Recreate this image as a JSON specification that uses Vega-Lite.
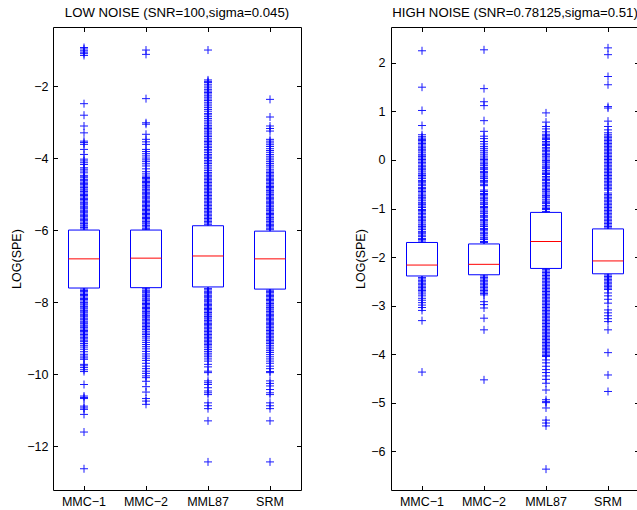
{
  "$schema": "https://vega.github.io/schema/vega-lite/v6.json",
  "padding": {"left": 10, "top": 5, "right": 0, "bottom": 0},
  "background": "white",
  "spacing": 52,
  "config": {
    "view": {"stroke": "black", "strokeWidth": 1},
    "font": "Liberation Sans",
    "axis": {"labelFont": "Liberation Sans", "labelFontSize": 12.5, "labelColor": "black", "titleFont": "Liberation Sans", "titleFontSize": 12.5, "titleFontWeight": "normal", "titleColor": "black", "grid": false, "domain": false, "tickColor": "black", "tickSize": -4.5, "tickWidth": 1},
    "title": {"font": "Liberation Sans", "fontSize": 13.2, "fontWeight": "normal", "color": "black", "offset": 6}
  },
  "datasets": {
    "boxes": [
      {"p": "L", "m": "MMC-1", "q1": -7.61, "q3": -6.0, "med": -6.8},
      {"p": "L", "m": "MMC-2", "q1": -7.6, "q3": -6.0, "med": -6.78},
      {"p": "L", "m": "MML87", "q1": -7.58, "q3": -5.88, "med": -6.72},
      {"p": "L", "m": "SRM", "q1": -7.64, "q3": -6.03, "med": -6.8},
      {"p": "H", "m": "MMC-1", "q1": -2.39, "q3": -1.7, "med": -2.165},
      {"p": "H", "m": "MMC-2", "q1": -2.365, "q3": -1.73, "med": -2.15},
      {"p": "H", "m": "MML87", "q1": -2.235, "q3": -1.08, "med": -1.68},
      {"p": "H", "m": "SRM", "q1": -2.345, "q3": -1.42, "med": -2.08}
    ],
    "outliers": [
      {"p": "L", "m": "MMC-1", "v": [-0.93,-0.97,-1.02,-1.06,-1.1,-1.15,-2.49,-2.81,-3.11,-3.3,-3.53,-3.57,-3.62,-3.76,-3.9,-4.03,-4.08,-4.13,-4.18,-4.27,-4.31,-4.36,-4.41,-4.48,-4.52,-4.55,-4.6,-4.63,-4.67,-4.71,-4.74,-4.78,-4.82,-4.86,-4.89,-4.93,-4.97,-5.01,-5.04,-5.08,-5.12,-5.15,-5.19,-5.23,-5.27,-5.3,-5.34,-5.38,-5.41,-5.45,-5.49,-5.52,-5.56,-5.6,-5.63,-5.67,-5.71,-5.74,-5.78,-5.82,-5.86,-5.89,-5.93,-5.97]},
      {"p": "L", "m": "MMC-1", "v": [-7.64,-7.68,-7.71,-7.75,-7.79,-7.82,-7.86,-7.9,-7.93,-7.97,-8.01,-8.05,-8.08,-8.12,-8.16,-8.19,-8.23,-8.27,-8.3,-8.34,-8.38,-8.41,-8.45,-8.49,-8.53,-8.56,-8.6,-8.64,-8.67,-8.71,-8.75,-8.79,-8.82,-8.86,-8.9,-8.94,-8.98,-9.02,-9.06,-9.1,-9.15,-9.2,-9.25,-9.31,-9.38,-9.45,-9.5,-9.55,-9.59,-9.73,-9.77,-9.82,-9.88,-9.93,-10.29,-10.61,-10.65,-10.68,-10.89,-10.94,-10.98,-11.12,-11.61,-12.63]},
      {"p": "L", "m": "MMC-2", "v": [-1.0,-1.12,-2.35,-3.02,-3.06,-3.34,-3.48,-3.55,-3.62,-3.76,-3.82,-3.88,-3.94,-4.0,-4.05,-4.1,-4.16,-4.22,-4.3,-4.38,-4.44,-4.5,-4.54,-4.57,-4.61,-4.65,-4.68,-4.72,-4.76,-4.8,-4.83,-4.87,-4.91,-4.95,-4.98,-5.02,-5.06,-5.09,-5.13,-5.17,-5.21,-5.24,-5.28,-5.32,-5.35,-5.39,-5.43,-5.46,-5.5,-5.54,-5.57,-5.61,-5.65,-5.68,-5.72,-5.76,-5.8,-5.83,-5.87,-5.91,-5.95,-5.98]},
      {"p": "L", "m": "MMC-2", "v": [-7.63,-7.67,-7.7,-7.74,-7.78,-7.81,-7.85,-7.89,-7.92,-7.96,-8.0,-8.04,-8.07,-8.11,-8.15,-8.18,-8.22,-8.26,-8.3,-8.33,-8.37,-8.41,-8.44,-8.48,-8.52,-8.56,-8.6,-8.64,-8.68,-8.72,-8.76,-8.81,-8.86,-8.9,-8.95,-9.0,-9.06,-9.12,-9.18,-9.24,-9.3,-9.37,-9.44,-9.5,-9.56,-9.62,-9.7,-9.78,-9.85,-9.92,-9.98,-10.05,-10.1,-10.2,-10.35,-10.5,-10.68,-10.75,-10.84]},
      {"p": "L", "m": "MML87", "v": [-1.0,-1.83,-1.87,-1.9,-1.95,-2.0,-2.05,-2.1,-2.14,-2.18,-2.22,-2.27,-2.31,-2.36,-2.4,-2.45,-2.5,-2.55,-2.6,-2.65,-2.7,-2.76,-2.8,-2.85,-2.9,-2.95,-3.0,-3.05,-3.1,-3.14,-3.18,-3.22,-3.27,-3.31,-3.36,-3.4,-3.45,-3.5,-3.54,-3.58,-3.62,-3.67,-3.71,-3.76,-3.8,-3.85,-3.9,-3.94,-3.98,-4.02,-4.07,-4.11,-4.15,-4.2,-4.25,-4.3,-4.35,-4.4,-4.44,-4.48,-4.52,-4.56,-4.6,-4.64,-4.68,-4.72,-4.76,-4.8,-4.84,-4.88,-4.92,-4.96,-5.0,-5.04,-5.08,-5.12,-5.16,-5.2,-5.24,-5.28,-5.32,-5.36,-5.4,-5.44,-5.48,-5.52,-5.56,-5.6,-5.64,-5.68,-5.72,-5.76,-5.8,-5.84]},
      {"p": "L", "m": "MML87", "v": [-7.62,-7.66,-7.7,-7.73,-7.77,-7.81,-7.84,-7.88,-7.92,-7.95,-7.99,-8.03,-8.07,-8.1,-8.14,-8.18,-8.21,-8.25,-8.29,-8.33,-8.36,-8.4,-8.44,-8.47,-8.51,-8.55,-8.59,-8.62,-8.66,-8.7,-8.74,-8.78,-8.82,-8.86,-8.9,-8.94,-8.98,-9.02,-9.06,-9.1,-9.14,-9.18,-9.22,-9.27,-9.32,-9.37,-9.42,-9.47,-9.52,-9.58,-9.64,-9.73,-9.8,-9.92,-9.96,-10.19,-10.24,-10.29,-10.38,-10.47,-10.52,-10.57,-10.8,-10.88,-10.96,-11.3,-12.44]},
      {"p": "L", "m": "SRM", "v": [-2.37,-2.86,-3.11,-3.18,-3.25,-3.48,-3.53,-3.58,-3.63,-3.68,-3.74,-3.79,-3.84,-3.9,-3.95,-4.0,-4.05,-4.1,-4.15,-4.2,-4.25,-4.31,-4.36,-4.4,-4.44,-4.48,-4.52,-4.56,-4.6,-4.63,-4.67,-4.71,-4.75,-4.79,-4.82,-4.86,-4.9,-4.94,-4.97,-5.01,-5.05,-5.09,-5.12,-5.16,-5.2,-5.24,-5.27,-5.31,-5.35,-5.39,-5.42,-5.46,-5.5,-5.54,-5.57,-5.61,-5.65,-5.69,-5.72,-5.76,-5.8,-5.84,-5.87,-5.91,-5.95,-5.99]},
      {"p": "L", "m": "SRM", "v": [-7.67,-7.71,-7.74,-7.78,-7.82,-7.85,-7.89,-7.93,-7.96,-8.0,-8.04,-8.08,-8.11,-8.15,-8.19,-8.22,-8.26,-8.3,-8.34,-8.37,-8.41,-8.45,-8.48,-8.52,-8.56,-8.6,-8.63,-8.67,-8.71,-8.75,-8.79,-8.83,-8.87,-8.91,-8.95,-8.99,-9.03,-9.07,-9.11,-9.15,-9.2,-9.25,-9.3,-9.35,-9.4,-9.46,-9.52,-9.58,-9.64,-9.7,-9.78,-9.85,-9.93,-9.96,-10.19,-10.26,-10.33,-10.43,-10.52,-10.57,-10.8,-10.88,-10.96,-11.3,-12.44]},
      {"p": "H", "m": "MMC-1", "v": [2.25,1.5,1.02,0.71,0.52,0.48,0.45,0.42,0.4,0.37,0.34,0.31,0.27,0.25,0.22,0.19,0.16,0.12,0.1,0.07,0.04,0.01,-0.02,-0.05,-0.08,-0.12,-0.14,-0.17,-0.2,-0.23,-0.27,-0.29,-0.32,-0.35,-0.38,-0.42,-0.44,-0.47,-0.5,-0.53,-0.57,-0.59,-0.62,-0.65,-0.68,-0.72,-0.74,-0.77,-0.8,-0.83,-0.87,-0.89,-0.92,-0.95,-0.98,-1.02,-1.04,-1.07,-1.1,-1.13,-1.17,-1.19,-1.22,-1.25,-1.28,-1.32,-1.34,-1.37,-1.4,-1.43,-1.47,-1.49,-1.52,-1.55,-1.58,-1.62,-1.64,-1.67]},
      {"p": "H", "m": "MMC-1", "v": [-2.42,-2.45,-2.48,-2.51,-2.54,-2.57,-2.6,-2.63,-2.66,-2.69,-2.72,-2.76,-2.8,-2.85,-2.89,-2.94,-2.99,-3.04,-3.1,-3.31,-4.37]},
      {"p": "H", "m": "MMC-2", "v": [2.27,1.47,1.2,1.12,0.81,0.59,0.49,0.44,0.38,0.33,0.28,0.24,0.2,0.16,0.12,0.08,0.04,0.01,-0.02,-0.06,-0.08,-0.11,-0.15,-0.17,-0.2,-0.24,-0.26,-0.29,-0.33,-0.35,-0.38,-0.42,-0.44,-0.47,-0.51,-0.53,-0.62,-0.65,-0.69,-0.71,-0.74,-0.78,-0.8,-0.83,-0.87,-0.89,-0.92,-0.96,-0.98,-1.01,-1.05,-1.07,-1.1,-1.14,-1.16,-1.19,-1.23,-1.25,-1.28,-1.32,-1.34,-1.37,-1.41,-1.43,-1.46,-1.5,-1.52,-1.55,-1.59,-1.61,-1.64,-1.68,-1.7]},
      {"p": "H", "m": "MMC-2", "v": [-2.39,-2.42,-2.45,-2.48,-2.51,-2.54,-2.57,-2.6,-2.63,-2.66,-2.69,-2.72,-2.75,-2.78,-2.92,-2.98,-3.05,-3.26,-3.5,-4.53]},
      {"p": "H", "m": "MML87", "v": [0.97,0.78,0.69,0.64,0.58,0.53,0.5,0.47,0.44,0.42,0.38,0.35,0.32,0.3,0.26,0.23,0.2,0.18,0.14,0.11,0.08,0.06,0.02,-0.01,-0.04,-0.06,-0.1,-0.13,-0.16,-0.18,-0.22,-0.25,-0.28,-0.3,-0.34,-0.37,-0.4,-0.42,-0.46,-0.49,-0.52,-0.54,-0.58,-0.61,-0.64,-0.66,-0.7,-0.73,-0.76,-0.78,-0.82,-0.85,-0.88,-0.9,-0.94,-0.97,-1.0,-1.02,-1.06]},
      {"p": "H", "m": "MML87", "v": [-2.26,-2.29,-2.32,-2.35,-2.38,-2.41,-2.44,-2.47,-2.5,-2.53,-2.56,-2.59,-2.62,-2.65,-2.68,-2.71,-2.74,-2.77,-2.8,-2.83,-2.86,-2.89,-2.92,-2.95,-2.98,-3.01,-3.04,-3.07,-3.1,-3.13,-3.16,-3.19,-3.22,-3.25,-3.28,-3.31,-3.34,-3.37,-3.4,-3.43,-3.46,-3.49,-3.52,-3.55,-3.58,-3.61,-3.64,-3.67,-3.7,-3.73,-3.76,-3.79,-3.82,-3.85,-3.88,-3.91,-3.94,-3.97,-4.0,-4.03,-4.05,-4.12,-4.18,-4.25,-4.32,-4.38,-4.45,-4.52,-4.6,-4.74,-4.94,-4.98,-5.0,-5.11,-5.36,-5.42,-5.48,-6.37]},
      {"p": "H", "m": "SRM", "v": [2.31,2.17,1.72,1.55,1.1,1.07,0.8,0.69,0.62,0.56,0.52,0.49,0.46,0.43,0.4,0.37,0.34,0.31,0.28,0.25,0.22,0.19,0.16,0.13,0.1,0.07,0.04,0.01,-0.02,-0.05,-0.08,-0.11,-0.14,-0.17,-0.2,-0.23,-0.26,-0.29,-0.32,-0.35,-0.38,-0.41,-0.44,-0.47,-0.5,-0.53,-0.56,-0.59,-0.62,-0.68,-0.71,-0.74,-0.77,-0.8,-0.83,-0.86,-0.89,-0.92,-0.95,-0.98,-1.01,-1.04,-1.07,-1.1,-1.13,-1.16,-1.19,-1.22,-1.25,-1.28,-1.31,-1.34,-1.37,-1.4]},
      {"p": "H", "m": "SRM", "v": [-2.37,-2.4,-2.43,-2.46,-2.49,-2.52,-2.55,-2.58,-2.61,-2.64,-2.67,-2.74,-2.8,-2.87,-2.95,-3.09,-3.15,-3.21,-3.27,-3.33,-3.5,-3.97,-4.43,-4.77]}
    ]
  },
  "hconcat": [
    {
      "width": 248, "height": 463,
      "title": "LOW NOISE (SNR=100,sigma=0.045)",
      "resolve": {"axis": {"x": "independent", "y": "independent"}},
      "layer": [
        {
          "data": {"name": "outliers"},
          "transform": [{"filter": "datum.p === 'L'"}, {"flatten": ["v"]}],
          "mark": {"type": "point", "shape": "M-1,0L1,0M0,-1L0,1", "size": 64, "filled": false, "color": "#0000ff", "strokeWidth": 1, "opacity": 0.9},
          "encoding": {
            "x": {"field": "m", "type": "nominal", "sort": ["MMC-1", "MMC-2", "MML87", "SRM"], "scale": {"paddingInner": 0, "paddingOuter": 0}, "axis": {"orient": "bottom", "title": null, "labelAngle": 0, "labelPadding": 10, "labelExpr": "replace(datum.label, '-', '−')"}},
            "y": {"field": "v", "type": "quantitative", "scale": {"domain": [-13.22, -0.36], "nice": false, "zero": false}, "axis": {"orient": "left", "title": "LOG(SPE)", "values": [-12, -10, -8, -6, -4, -2], "labelPadding": 9.5, "titlePadding": 3}}
          }
        },
        {
          "data": {"name": "boxes"},
          "transform": [{"filter": "datum.p === 'L'"}],
          "mark": {"type": "bar", "width": 31, "fill": "white", "stroke": "#0000ff", "strokeWidth": 1},
          "encoding": {
            "x": {"field": "m", "type": "nominal", "sort": ["MMC-1", "MMC-2", "MML87", "SRM"], "axis": {"orient": "top", "labels": false, "title": null}},
            "y": {"field": "q1", "type": "quantitative", "axis": {"orient": "right", "labels": false, "title": null, "values": [-12, -10, -8, -6, -4, -2]}},
            "y2": {"field": "q3"}
          }
        },
        {
          "data": {"name": "boxes"},
          "transform": [{"filter": "datum.p === 'L'"}],
          "mark": {"type": "tick", "color": "#ff0000", "size": 31, "thickness": 1, "opacity": 1},
          "encoding": {
            "x": {"field": "m", "type": "nominal", "sort": ["MMC-1", "MMC-2", "MML87", "SRM"], "axis": null},
            "y": {"field": "med", "type": "quantitative", "axis": null}
          }
        }
      ]
    },
    {
      "width": 248, "height": 463,
      "title": "HIGH NOISE (SNR=0.78125,sigma=0.51)",
      "resolve": {"axis": {"x": "independent", "y": "independent"}},
      "layer": [
        {
          "data": {"name": "outliers"},
          "transform": [{"filter": "datum.p === 'H'"}, {"flatten": ["v"]}],
          "mark": {"type": "point", "shape": "M-1,0L1,0M0,-1L0,1", "size": 64, "filled": false, "color": "#0000ff", "strokeWidth": 1, "opacity": 0.9},
          "encoding": {
            "x": {"field": "m", "type": "nominal", "sort": ["MMC-1", "MMC-2", "MML87", "SRM"], "scale": {"paddingInner": 0, "paddingOuter": 0}, "axis": {"orient": "bottom", "title": null, "labelAngle": 0, "labelPadding": 10, "labelExpr": "replace(datum.label, '-', '−')"}},
            "y": {"field": "v", "type": "quantitative", "scale": {"domain": [-6.8, 2.74], "nice": false, "zero": false}, "axis": {"orient": "left", "title": "LOG(SPE)", "values": [-6, -5, -4, -3, -2, -1, 0, 1, 2], "labelPadding": 10.5, "titlePadding": 3}}
          }
        },
        {
          "data": {"name": "boxes"},
          "transform": [{"filter": "datum.p === 'H'"}],
          "mark": {"type": "bar", "width": 31, "fill": "white", "stroke": "#0000ff", "strokeWidth": 1},
          "encoding": {
            "x": {"field": "m", "type": "nominal", "sort": ["MMC-1", "MMC-2", "MML87", "SRM"], "axis": {"orient": "top", "labels": false, "title": null}},
            "y": {"field": "q1", "type": "quantitative", "axis": {"orient": "right", "labels": false, "title": null, "values": [-6, -5, -4, -3, -2, -1, 0, 1, 2]}},
            "y2": {"field": "q3"}
          }
        },
        {
          "data": {"name": "boxes"},
          "transform": [{"filter": "datum.p === 'H'"}],
          "mark": {"type": "tick", "color": "#ff0000", "size": 31, "thickness": 1, "opacity": 1},
          "encoding": {
            "x": {"field": "m", "type": "nominal", "sort": ["MMC-1", "MMC-2", "MML87", "SRM"], "axis": null},
            "y": {"field": "med", "type": "quantitative", "axis": null}
          }
        }
      ]
    }
  ]
}
